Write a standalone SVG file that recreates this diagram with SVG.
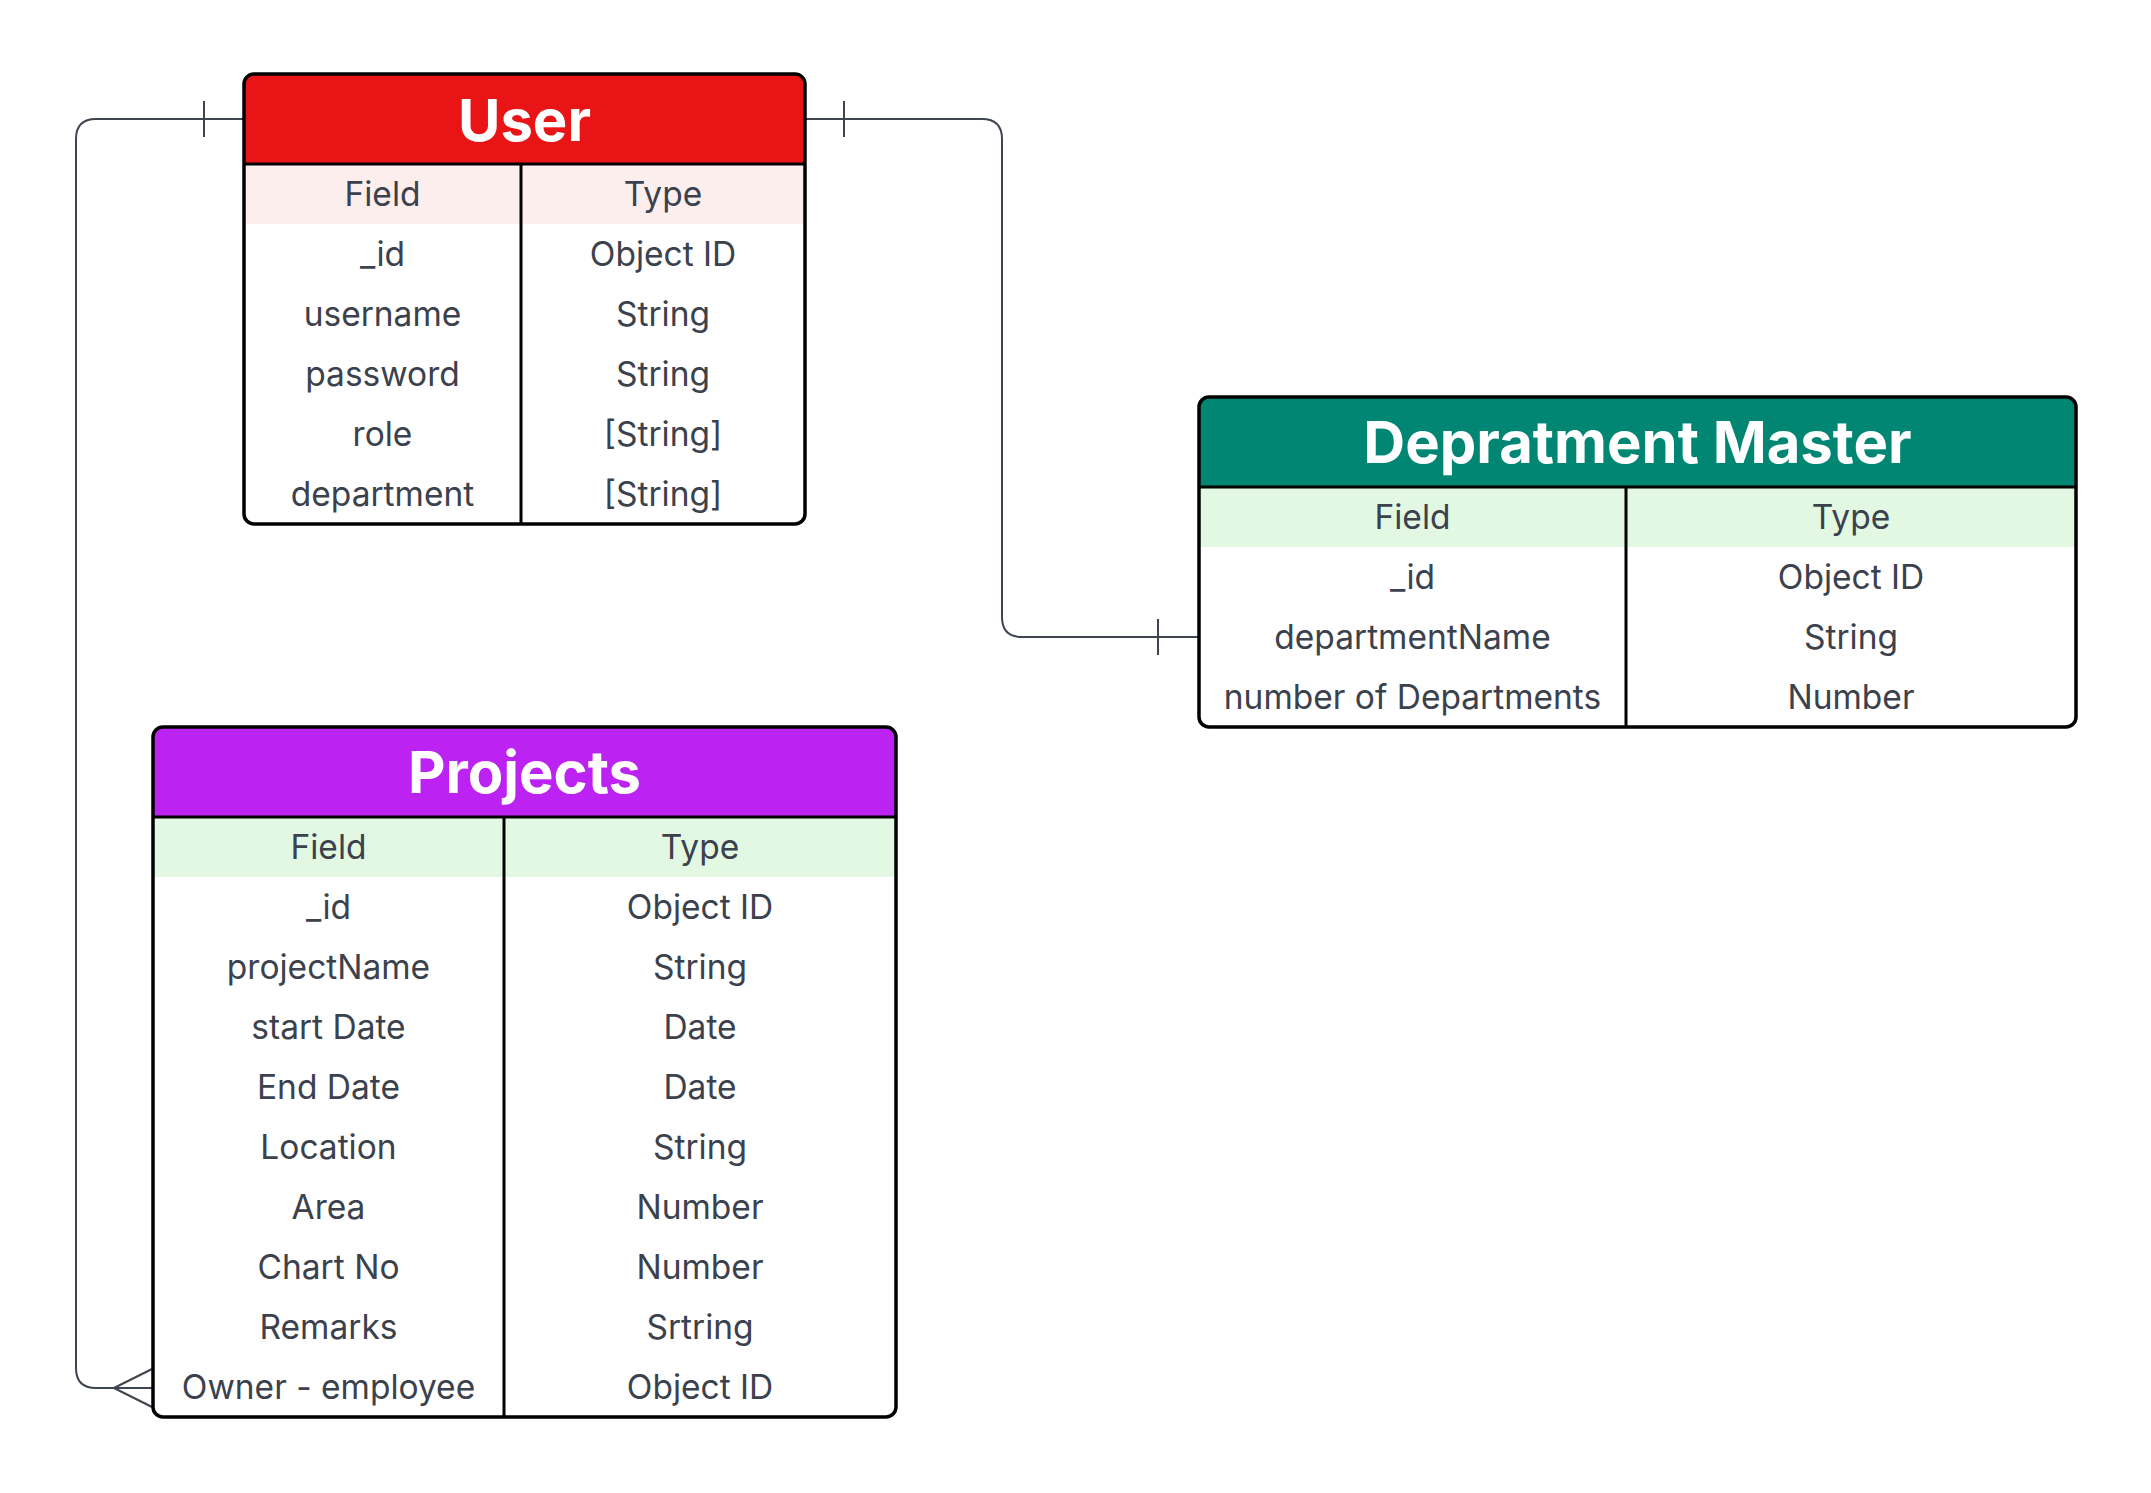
<svg xmlns="http://www.w3.org/2000/svg" width="2151" height="1493" viewBox="0 0 2151 1493">
<style>
.title{font-family:Inter,"Liberation Sans",sans-serif;font-weight:700;font-size:58px;fill:#ffffff;text-anchor:middle}
.t{font-family:Inter,"Liberation Sans",sans-serif;font-size:33.5px;fill:#3b414d;text-anchor:middle}
.border{fill:none;stroke:#000;stroke-width:3.5}
.div{stroke:#000;stroke-width:3}
.conn{fill:none;stroke:#3f4550;stroke-width:2}
</style>
<rect width="2151" height="1493" fill="#ffffff"/>
<g id="connectors">
<path class="conn" d="M244 119 H96 Q76 119 76 139 V1368 Q76 1388 96 1388 H153"/>
<line class="conn" x1="204" y1="101" x2="204" y2="137"/>
<path class="conn" d="M114 1388 L152 1369 M114 1388 L152 1407"/>
<path class="conn" d="M805 119 H982 Q1002 119 1002 139 V617 Q1002 637 1022 637 H1198"/>
<line class="conn" x1="844" y1="101" x2="844" y2="137"/>
<line class="conn" x1="1158" y1="619" x2="1158" y2="655"/>
</g>
<g id="user">
<rect x="244" y="74" width="561" height="450" rx="10" fill="#fff"/>
<path d="M244 164 V84 Q244 74 254 74 H795 Q805 74 805 84 V164 Z" fill="#e81416"/>
<rect x="244" y="164" width="561" height="60" fill="#fdeeee"/>
<line class="div" x1="244" y1="164" x2="805" y2="164"/>
<line class="div" x1="521" y1="164" x2="521" y2="524"/>
<rect class="border" x="244" y="74" width="561" height="450" rx="10"/>
<text class="title" x="524.5" y="141">User</text>
<text class="t" x="382.5" y="205.5">Field</text><text class="t" x="663" y="205.5">Type</text>
<text class="t" x="382.5" y="265.5">_id</text><text class="t" x="663" y="265.5">Object ID</text>
<text class="t" x="382.5" y="325.5">username</text><text class="t" x="663" y="325.5">String</text>
<text class="t" x="382.5" y="385.5">password</text><text class="t" x="663" y="385.5">String</text>
<text class="t" x="382.5" y="445.5">role</text><text class="t" x="663" y="445.5">[String]</text>
<text class="t" x="382.5" y="505.5">department</text><text class="t" x="663" y="505.5">[String]</text>
</g>
<g id="department-master">
<rect x="1199" y="397" width="877" height="330" rx="10" fill="#fff"/>
<path d="M1199 487 V407 Q1199 397 1209 397 H2066 Q2076 397 2076 407 V487 Z" fill="#008672"/>
<rect x="1199" y="487" width="877" height="60" fill="#e2f8e2"/>
<line class="div" x1="1199" y1="487" x2="2076" y2="487"/>
<line class="div" x1="1626" y1="487" x2="1626" y2="727"/>
<rect class="border" x="1199" y="397" width="877" height="330" rx="10"/>
<text class="title" x="1637.5" y="463">Depratment Master</text>
<text class="t" x="1412.5" y="528.5">Field</text><text class="t" x="1851" y="528.5">Type</text>
<text class="t" x="1412.5" y="588.5">_id</text><text class="t" x="1851" y="588.5">Object ID</text>
<text class="t" x="1412.5" y="648.5">departmentName</text><text class="t" x="1851" y="648.5">String</text>
<text class="t" x="1412.5" y="708.5">number of Departments</text><text class="t" x="1851" y="708.5">Number</text>
</g>
<g id="projects">
<rect x="153" y="727" width="743" height="690" rx="10" fill="#fff"/>
<path d="M153 817 V737 Q153 727 163 727 H886 Q896 727 896 737 V817 Z" fill="#bc23f2"/>
<rect x="153" y="817" width="743" height="60" fill="#e2f8e2"/>
<line class="div" x1="153" y1="817" x2="896" y2="817"/>
<line class="div" x1="504" y1="817" x2="504" y2="1417"/>
<rect class="border" x="153" y="727" width="743" height="690" rx="10"/>
<text class="title" x="524.5" y="793">Projects</text>
<text class="t" x="328.5" y="858.5">Field</text><text class="t" x="700" y="858.5">Type</text>
<text class="t" x="328.5" y="918.5">_id</text><text class="t" x="700" y="918.5">Object ID</text>
<text class="t" x="328.5" y="978.5">projectName</text><text class="t" x="700" y="978.5">String</text>
<text class="t" x="328.5" y="1038.5">start Date</text><text class="t" x="700" y="1038.5">Date</text>
<text class="t" x="328.5" y="1098.5">End Date</text><text class="t" x="700" y="1098.5">Date</text>
<text class="t" x="328.5" y="1158.5">Location</text><text class="t" x="700" y="1158.5">String</text>
<text class="t" x="328.5" y="1218.5">Area</text><text class="t" x="700" y="1218.5">Number</text>
<text class="t" x="328.5" y="1278.5">Chart No</text><text class="t" x="700" y="1278.5">Number</text>
<text class="t" x="328.5" y="1338.5">Remarks</text><text class="t" x="700" y="1338.5">Srtring</text>
<text class="t" x="328.5" y="1398.5">Owner - employee</text><text class="t" x="700" y="1398.5">Object ID</text>
</g>
</svg>
